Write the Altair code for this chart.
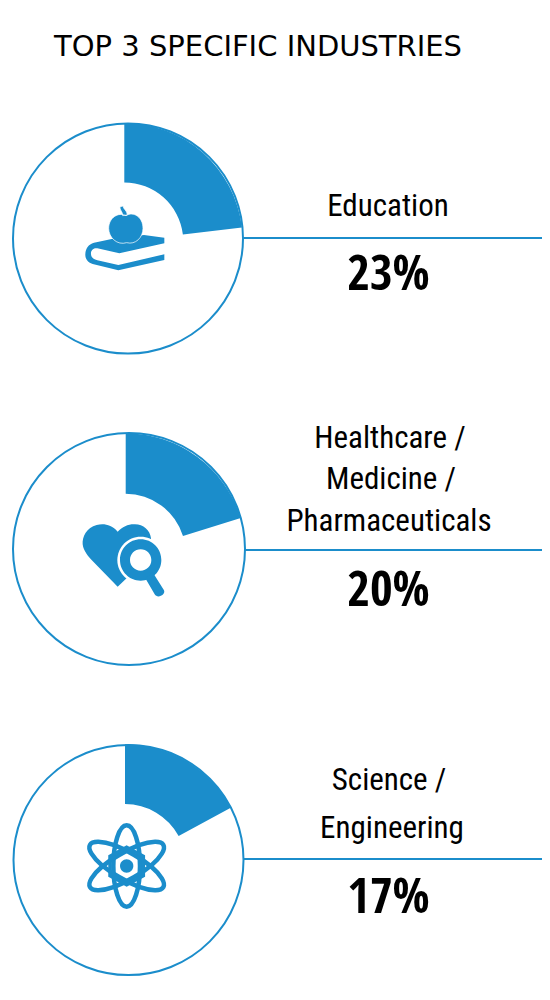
import math
import altair as alt
import pandas as pd

TITLE = "TOP 3 SPECIFIC INDUSTRIES"
industries = ["Education", "Healthcare / Medicine / Pharmaceuticals", "Science / Engineering"]
shares = [23.1, 20.2, 17.1]
share_labels = ["23%", "20%", "17%"]

BLUE = "#1b8dcb"
FONT = "Roboto Condensed"
FONT_BOLD = "Open Sans Condensed"
OX, OY = 8, 8
ZOOM_SIZE = 4 / 9  # icon paths drawn at 1/3 px per unit


def px(v):
    return alt.value(v - OX)


def py(v):
    return alt.value(v - OY)


def circ(cx, cy, r, cw=True):
    s = 1 if cw else 0
    return f"M{cx-r} {cy}A{r} {r} 0 1 {s} {cx+r} {cy}A{r} {r} 0 1 {s} {cx-r} {cy}Z"


def ell(cx, cy, rx, ry, rot):
    c, s = math.cos(math.radians(rot)), math.sin(math.radians(rot))
    return (f"M{cx - rx*c:.1f} {cy - rx*s:.1f}"
            f"A{rx} {ry} {rot} 1 1 {cx + rx*c:.1f} {cy + rx*s:.1f}"
            f"A{rx} {ry} {rot} 1 1 {cx - rx*c:.1f} {cy - rx*s:.1f}Z")


row = pd.DataFrame({"one": [0]})
layers = []

rows_geom = [
    dict(cx=128, cy=238.5, r=115, wx=124.3, wy=241.5, wr=118.5, wr2=59, line_y=238, line_x=243),
    dict(cx=129, cy=549, r=116, wx=125.7, wy=553.8, wr=120.5, wr2=60, line_y=550, line_x=245),
    dict(cx=128.5, cy=860, r=115, wx=125, wy=865.1, wr=120.8, wr2=61, line_y=859, line_x=244),
]
theta_scale = alt.Scale(domain=[0, 100], range=[0, 2 * math.pi])

for share, g in zip(shares, rows_geom):
    layers.append(
        alt.Chart(row).mark_point(shape="circle", filled=False, color=BLUE, strokeWidth=2, opacity=1,
                                  size=(2 * g["r"]) ** 2).encode(x=px(g["cx"]), y=py(g["cy"]))
    )
    d = pd.DataFrame({"start": [0.0], "end": [share]})
    layers.append(
        alt.Chart(d).mark_arc(color=BLUE, radius=g["wr"], radius2=g["wr2"]).encode(
            x=px(g["wx"]), y=py(g["wy"]),
            theta=alt.Theta("start:Q", scale=theta_scale),
            theta2="end:Q",
        )
    )
    layers.append(
        alt.Chart(row).mark_rule(color=BLUE, strokeWidth=2).encode(
            x=px(g["line_x"]), x2=px(552), y=py(g["line_y"]))
    )


def icon(path, ox, oy, fill=BLUE, stroke=None, sw=0, filled=True):
    kw = dict(shape=path, size=ZOOM_SIZE, opacity=1, filled=filled)
    if filled:
        kw.update(fill=fill, fillOpacity=1)
        if stroke:
            kw.update(stroke=stroke, strokeWidth=sw)
        else:
            kw.update(strokeWidth=0)
    else:
        kw.update(stroke=stroke, strokeWidth=sw)
    return alt.Chart(row).mark_point(**kw).encode(x=px(ox), y=py(oy))


# book + apple
book = ("M222 120L283 128L283 145L148 175L82 160C68 158 62 168 63 178C64 188 70 192 82 196L145 210L283 178L283 195"
        "L145 226L68 207C52 202 45 190 46 177C47 160 55 148 72 143L125 132Z")
apple = ("M168 62C190 48 219 66 219 100C219 128 196 150 170 143C142 152 116 128 116 100C116 68 145 50 168 62Z"
         "M158 62C160 52 148 45 150 35L160 33C158 42 172 46 172 60Z")
layers.append(icon(book, 70, 195))
layers.append(icon(apple, 70, 195, stroke="white", sw=0.7))

# heart + magnifier
heart = ("M143 50C125 28 100 25 80 30C50 38 36 65 38 88C40 108 55 125 70 140L143 215L243 120L243 70"
         "C240 45 220 28 195 28C175 27 158 35 143 50Z")
layers.append(icon(heart, 70, 515))
layers.append(icon(circ(212, 135, 70), 70, 515, fill="white"))
layers.append(icon(circ(212, 135, 62) + circ(212, 135, 32, cw=False), 70, 515))
layers.append(icon("M248 172L282 226C288 240 262 252 254 238L226 190Z", 70, 515))

# atom
for rot in (0, 60, -60):
    layers.append(icon(ell(155, 153, 40, 122, rot), 75, 815, stroke=BLUE, sw=4.5, filled=False))
layers.append(icon("M155 97L205 124L205 182L155 209L105 182L105 124Z", 75, 815, stroke=BLUE, sw=3.5, filled=False))
layers.append(icon(circ(155, 153, 20), 75, 815))


def text(t, x, y, size, bold=False, font=FONT):
    return alt.Chart(pd.DataFrame({"t": [t]})).mark_text(
        font=font, fontSize=size, fontWeight="bold" if bold else "normal", align="center",
        baseline="alphabetic", color="#000000").encode(x=px(x), y=py(y), text="t:N")


layers.append(text(TITLE, 258, 56, 29, font="DejaVu Sans"))

line_specs = [
    (["Education"], [388], [216]),
    (["Healthcare /", "Medicine /", "Pharmaceuticals"], [390, 391, 389], [448, 489, 531]),
    (["Science /", "Engineering"], [389, 392], [790, 838]),
]
for lines, xs, ys in line_specs:
    for t, x, y in zip(lines, xs, ys):
        layers.append(text(t, x, y, 31))

for lab, y in zip(share_labels, [290, 606, 913]):
    layers.append(text(lab, 388.5, y, 49, bold=True, font=FONT_BOLD))

chart = alt.layer(*layers).properties(
    width=534, height=984, padding=0,
    autosize=alt.AutoSizeParams(type="none"),
).configure_view(stroke=None)

chart.save("out.html", embed_options={"renderer": "svg", "actions": False})
